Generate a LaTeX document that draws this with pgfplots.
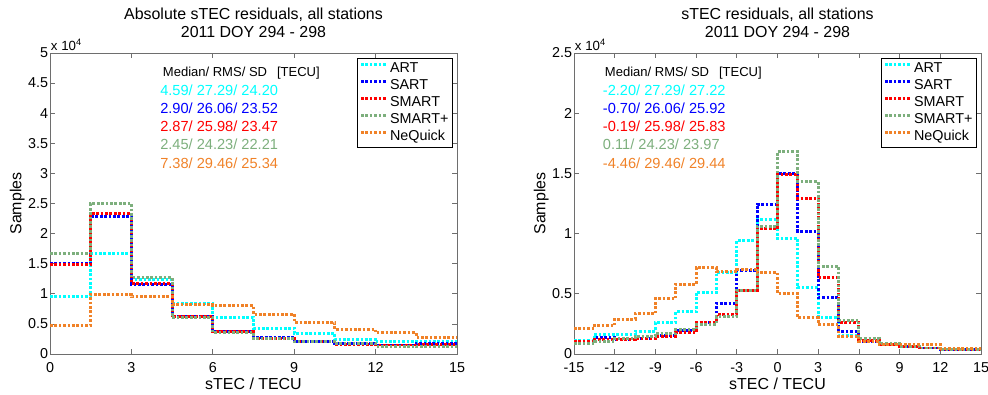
\documentclass[border=0pt]{standalone}
\usepackage{pgfplots}
\usepackage{pgfplotstable}
\pgfplotsset{compat=1.18}
\usetikzlibrary{calc}
\usepackage{fontspec}
\setmainfont{Liberation Sans}

\definecolor{cART}{rgb}{0,1,1}
\definecolor{cSART}{rgb}{0,0,1}
\definecolor{cSMART}{rgb}{1,0,0}
\definecolor{cSMARTp}{RGB}{125,175,125}
\definecolor{cNeQ}{RGB}{240,130,40}
\definecolor{axgray}{RGB}{110,110,110}

% values in units of 10^4 samples, bins of 1.5 TECU (left edge), last row closes the step
\pgfplotstableread{
x    ART  SART SMART SMARTp NeQ
0    0.95 1.50 1.49 1.67 0.48
1.5  1.67 2.28 2.33 2.50 0.99
3    1.24 1.16 1.17 1.27 0.95
4.5  0.84 0.63 0.62 0.61 0.82
6    0.61 0.37 0.37 0.36 0.80
7.5  0.43 0.27 0.25 0.25 0.66
9    0.34 0.21 0.20 0.21 0.53
10.5 0.24 0.17 0.16 0.17 0.41
12   0.20 0.15 0.15 0.13 0.35
13.5 0.20 0.17 0.16 0.12 0.28
15   0.20 0.17 0.16 0.12 0.28
}\absdata

\pgfplotstableread{
x     ART   SART  SMART SMARTp NeQ
-15   0.11  0.10  0.10  0.085  0.21
-13.5 0.16  0.14  0.12  0.10   0.235
-12   0.16  0.12  0.12  0.125  0.29
-10.5 0.19  0.13  0.13  0.145  0.335
-9    0.26  0.15  0.145 0.17   0.46
-7.5  0.35  0.195 0.175 0.20   0.58
-6    0.51  0.26  0.26  0.245  0.715
-4.5  0.675 0.42  0.33  0.31   0.685
-3    0.94  0.69  0.53  0.53   0.70
-1.5  1.12  1.245 1.04  1.06   0.675
0     0.96  1.50  1.49  1.68   0.50
1.5   0.55  1.02  1.29  1.43   0.30
3     0.305 0.47  0.635 0.73   0.245
4.5   0.15  0.19  0.265 0.28   0.145
6     0.10  0.105 0.115 0.13   0.105
7.5   0.08  0.08  0.08  0.085  0.08
9     0.065 0.06  0.06  0.065  0.08
10.5  0.05  0.05  0.05  0.05   0.08
12    0.04  0.04  0.04  0.04   0.045
13.5  0.035 0.035 0.035 0.035  0.045
15    0.035 0.035 0.035 0.035  0.045
}\reldata

\pgfplotsset{
  myaxis/.style={
    scale only axis, width=305.25bp, height=225.75bp,
    clip mode=individual,
    axis line style={axgray, line width=0.6bp},
    every tick/.style={axgray, line width=0.6bp},
    tick align=inside, major tick length=3.5bp,
    xtick pos=both, ytick pos=both,
    ticklabel style={font=\fontsize{10.8}{12}\selectfont},
    xticklabel style={inner ysep=6bp},
    yticklabel style={inner xsep=1.3bp},
    /pgf/number format/assume math mode=true,
    scaled ticks=false,
    legend cell align=left,
    legend style={at={(1,1)}, anchor=north east, xshift=-3bp, yshift=-3.75bp,
      draw=black, line width=0.5bp, fill=white,
      font=\fontsize{10.8}{12}\selectfont,
      inner xsep=2bp, inner ysep=1.5bp, row sep=0pt,
      nodes={inner sep=1.2bp, text height=8bp, text depth=2.4bp},
      /tikz/every odd column/.append style={column sep=0.5bp}},
    legend image code/.code={\draw[#1] (0bp,3.5bp) -- (19bp,3.5bp);},
  },
  hist/.style={const plot, line width=2.2bp, dash pattern=on 2bp off 1.3bp, line cap=butt},
  hdr/.style={anchor=base west, inner sep=0pt, font=\fontsize{9.8}{11}\selectfont},
  num/.style={anchor=base west, inner sep=0pt, font=\fontsize{11}{13}\selectfont},
  ttl/.style={anchor=base, inner sep=0pt, font=\fontsize{12}{14}\selectfont},
}

\begin{document}
\begin{tikzpicture}
\useasboundingbox (0,0) rectangle (741bp,296.25bp);

% ---------------- left -----------------
\begin{axis}[myaxis, name=L, at={(37.5bp,30.75bp)}, anchor=south west,
  xmin=0, xmax=15, ymin=0, ymax=5,
  xtick={0,3,6,9,12,15},
  ytick={0,0.5,1,1.5,2,2.5,3,3.5,4,4.5,5}]
\addplot[hist, cART]    table[x=x,y=ART]{\absdata};    \addlegendentry{ART}
\addplot[hist, cSART]   table[x=x,y=SART]{\absdata};   \addlegendentry{SART}
\addplot[hist, cSMART]  table[x=x,y=SMART]{\absdata};  \addlegendentry{SMART}
\addplot[hist, cSMARTp] table[x=x,y=SMARTp]{\absdata}; \addlegendentry{SMART+}
\addplot[hist, cNeQ]    table[x=x,y=NeQ]{\absdata};    \addlegendentry{NeQuick}

\node[/pgfplots/hdr, xshift=84.5bp, yshift=-17.4bp] at (axis description cs:0,1) {Median/ RMS/ SD\hspace{7.5bp}[TECU]};
\node[/pgfplots/num, text=cART,    xshift=82.5bp, yshift=-31.5bp]   at (axis description cs:0,1) {4.59/ 27.29/ 24.20};
\node[/pgfplots/num, text=cSART,   xshift=82.5bp, yshift=-45.25bp] at (axis description cs:0,1) {2.90/ 26.06/ 23.52};
\node[/pgfplots/num, text=cSMART,  xshift=82.5bp, yshift=-59bp] at (axis description cs:0,1) {2.87/ 25.98/ 23.47};
\node[/pgfplots/num, text=cSMARTp, xshift=82.5bp, yshift=-72.5bp] at (axis description cs:0,1) {2.45/ 24.23/ 22.21};
\node[/pgfplots/num, text=cNeQ,    xshift=82.5bp, yshift=-86.25bp] at (axis description cs:0,1) {7.38/ 29.46/ 25.34};
\end{axis}
\node[/pgfplots/ttl] at ($(L.north)+(0,25bp)$) {Absolute sTEC residuals, all stations};
\node[/pgfplots/ttl] at ($(L.north)+(0,11.7bp)$) {2011 DOY 294 - 298};
\node[anchor=base west, inner sep=0pt, font=\fontsize{10}{12}\selectfont] at ($(L.north west)+(0.5bp,1.7bp)$) {x 10\raisebox{4bp}{\fontsize{7}{8}\selectfont 4}};
\node[/pgfplots/ttl] at ($(L.south)+(0,-26.6bp)$) {sTEC / TECU};
\node[rotate=90, anchor=base, inner sep=0pt, font=\fontsize{12}{14}\selectfont] at ($(L.west)+(-21.4bp,0)$) {Samples};

% ---------------- right -----------------
\begin{axis}[myaxis, name=R, at={(430.5bp,30.75bp)}, anchor=south west,
  xmin=-15, xmax=15, ymin=0, ymax=2.5,
  xtick={-15,-12,-9,-6,-3,0,3,6,9,12,15},
  ytick={0,0.5,1,1.5,2,2.5}]
\addplot[hist, cART]    table[x=x,y=ART]{\reldata};    \addlegendentry{ART}
\addplot[hist, cSART]   table[x=x,y=SART]{\reldata};   \addlegendentry{SART}
\addplot[hist, cSMART]  table[x=x,y=SMART]{\reldata};  \addlegendentry{SMART}
\addplot[hist, cSMARTp] table[x=x,y=SMARTp]{\reldata}; \addlegendentry{SMART+}
\addplot[hist, cNeQ]    table[x=x,y=NeQ]{\reldata};    \addlegendentry{NeQuick}

\node[/pgfplots/hdr, xshift=23bp, yshift=-17.4bp] at (axis description cs:0,1) {Median/ RMS/ SD\hspace{7.5bp}[TECU]};
\node[/pgfplots/num, text=cART,    xshift=21.5bp, yshift=-31.5bp]   at (axis description cs:0,1) {-2.20/ 27.29/ 27.22};
\node[/pgfplots/num, text=cSART,   xshift=21.5bp, yshift=-45.25bp] at (axis description cs:0,1) {-0.70/ 26.06/ 25.92};
\node[/pgfplots/num, text=cSMART,  xshift=21.5bp, yshift=-59bp] at (axis description cs:0,1) {-0.19/ 25.98/ 25.83};
\node[/pgfplots/num, text=cSMARTp, xshift=21.5bp, yshift=-72.5bp] at (axis description cs:0,1) {0.11/ 24.23/ 23.97};
\node[/pgfplots/num, text=cNeQ,    xshift=21.5bp, yshift=-86.25bp] at (axis description cs:0,1) {-4.46/ 29.46/ 29.44};
\end{axis}
\node[/pgfplots/ttl] at ($(R.north)+(0,25bp)$) {sTEC residuals, all stations};
\node[/pgfplots/ttl] at ($(R.north)+(0,11.7bp)$) {2011 DOY 294 - 298};
\node[anchor=base west, inner sep=0pt, font=\fontsize{10}{12}\selectfont] at ($(R.north west)+(0.5bp,1.7bp)$) {x 10\raisebox{4bp}{\fontsize{7}{8}\selectfont 4}};
\node[/pgfplots/ttl] at ($(R.south)+(0,-26.6bp)$) {sTEC / TECU};
\node[rotate=90, anchor=base, inner sep=0pt, font=\fontsize{12}{14}\selectfont] at ($(R.west)+(-21.4bp,0)$) {Samples};
\end{tikzpicture}
\end{document}
